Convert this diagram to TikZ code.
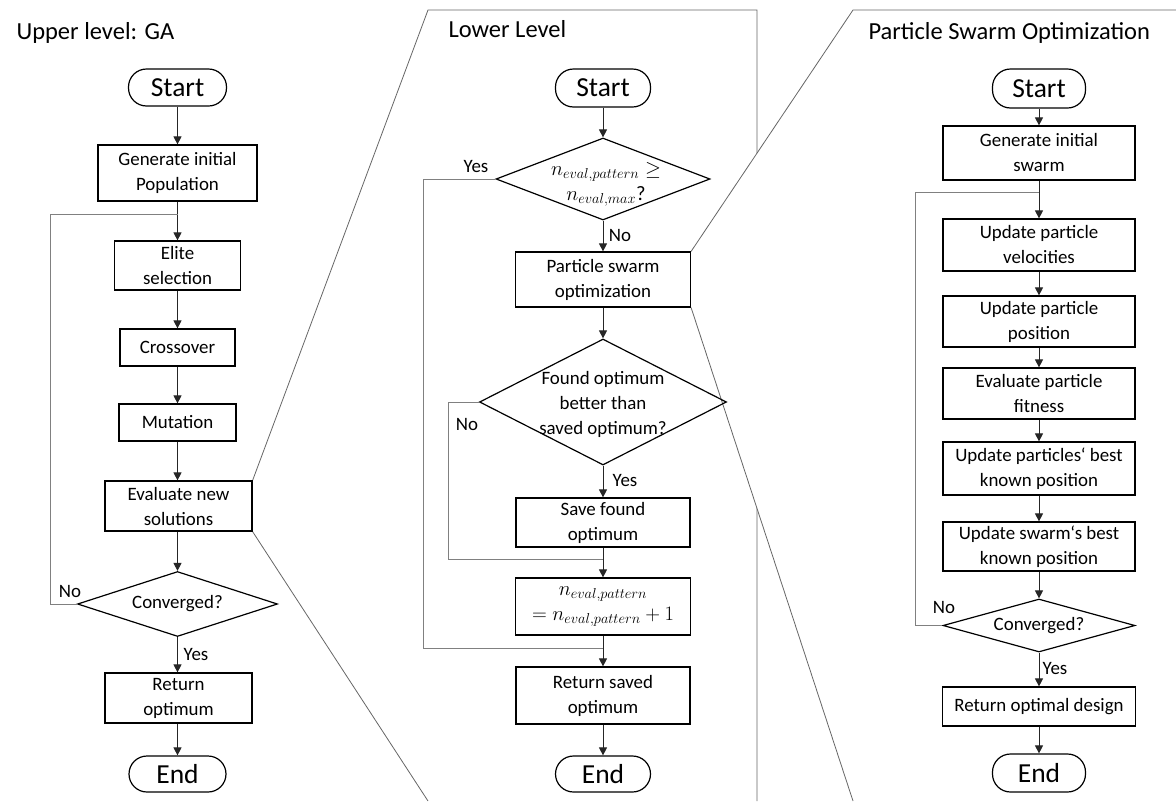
\RequirePackage{fix-cm}
\documentclass[tikz,border=0pt]{standalone}
\usepackage{fontspec}
\setmainfont{Carlito}
\usetikzlibrary{shapes.geometric,arrows.meta}
\pgfdeclarelayer{background}
\pgfsetlayers{background,main}
\begin{document}
\begin{tikzpicture}[x=1pt,y=-1pt,
  every node/.style={font=\fontsize{18.9}{25}\selectfont},
  title/.style={anchor=base west,font=\fontsize{24.5}{28}\selectfont},
  box/.style={draw,line width=1.2pt,align=center,inner sep=0pt},
  term/.style={draw,line width=1.2pt,rounded corners=18pt,inner sep=0pt,font=\fontsize{27.5}{30}\selectfont},
  dec/.style={draw,diamond,line width=1.2pt,inner sep=0pt},
  dtext/.style={align=center,inner sep=0pt},
  mathtext/.style={font=\fontsize{20.5}{25}\selectfont},
  lbl/.style={inner sep=0pt},
  arr/.style={-{Triangle[width=8pt,length=8pt]},line width=0.9pt,draw=black!85},
  loopl/.style={line width=0.9pt,draw=black!50},
  lens/.style={line width=0.8pt,draw=black!60}]
\useasboundingbox (0,0) rectangle (1176,801);

% ---------------- Upper level: GA
\node[title] (tGA) at (13,39) {Upper level: GA};
\node[term,minimum width=98pt,minimum height=37pt] (s1) at (177.5,87.5) {Start};
\node[box,minimum width=159pt,minimum height=56pt] (g1) at (177.5,173) {Generate initial\\Population};
\node[box,minimum width=126pt,minimum height=49pt] (e1) at (177.5,265.5) {Elite\\selection};
\node[box,minimum width=115pt,minimum height=37pt] (cr) at (177.5,347.5) {Crossover};
\node[box,minimum width=117pt,minimum height=37pt] (mu) at (177.5,422.5) {Mutation};
\node[box,minimum width=147pt,minimum height=50pt] (ev) at (178.5,506) {Evaluate new\\solutions};
\node[dec,minimum width=200pt,minimum height=65pt] (c1) at (177.5,604) {};
\node[dtext] (c1t) at (c1) {Converged?};
\node[box,minimum width=147pt,minimum height=50pt] (r1) at (178.5,698) {Return\\optimum};
\node[term,minimum width=97pt,minimum height=36pt] (x1) at (177.5,774) {End};
\node[lbl] (noA) at (70,591) {No};
\node[lbl] (yesA) at (196,654) {Yes};

\draw[arr] (s1.south) -- (s1.south |- g1.north);
\draw[arr] (g1.south) -- (g1.south |- e1.north);
\draw[arr] (e1.south) -- (e1.south |- cr.north);
\draw[arr] (cr.south) -- (cr.south |- mu.north);
\draw[arr] (mu.south) -- (mu.south |- ev.north);
\draw[arr] (ev.south -| c1.north) -- (c1.north);
\draw[arr] (c1.south) -- (c1.south |- r1.north);
\draw[arr] (r1.south -| x1.north) -- (x1.north);
\coordinate (lA) at (50,214);
\draw[loopl] (c1.west) -| (lA) -- (lA -| e1.north);

% ---------------- Lower Level
\node[title] (tLL) at (445,37) {Lower Level};
\node[term,minimum width=95pt,minimum height=38pt] (s2) at (603,88) {Start};
\node[dec,minimum width=214pt,minimum height=82pt] (d1) at (603,179) {};
\node[dtext,mathtext] (d1t) at (606,184) {$n_{eval,pattern}\geq$\\$n_{eval,max}$?};
\node[box,minimum width=175pt,minimum height=55pt] (p2) at (603,279.5) {Particle swarm\\optimization};
\node[dec,minimum width=247pt,minimum height=126pt] (d2) at (603,402) {};
\node[dtext] (d2t) at (603,404) {Found optimum\\better than\\saved optimum?};
\node[box,minimum width=174pt,minimum height=49pt] (sv) at (603,522.5) {Save found\\optimum};
\node[box,mathtext,minimum width=175pt,minimum height=57pt] (ne) at (603,606.5) {$n_{eval,pattern}$\\$=n_{eval,pattern}+1$};
\node[box,minimum width=174pt,minimum height=57pt] (r2) at (603,695.5) {Return saved\\optimum};
\node[term,minimum width=95pt,minimum height=36pt] (x2) at (603,774) {End};
\node[lbl] (yesB) at (476,167) {Yes};
\node[lbl] (noB) at (620,235) {No};
\node[lbl] (noC) at (467,424) {No};
\node[lbl] (yesC) at (625,480) {Yes};

\draw[arr] (s2.south) -- (d1.north);
\draw[arr] (d1.south) -- (p2.north);
\draw[arr] (p2.south) -- (d2.north);
\draw[arr] (d2.south) -- (sv.north);
\draw[arr] (sv.south) -- (ne.north);
\draw[arr] (ne.south) -- (r2.north);
\draw[arr] (r2.south) -- (x2.north);
\coordinate (lB) at (423,648);
\draw[loopl] (d1.west) -| (lB) -- (lB -| r2.north);
\coordinate (lC) at (448,559);
\draw[loopl] (d2.west) -| (lC) -- (lC -| ne.north);

% ---------------- Particle Swarm Optimization
\node[title] (tPS) at (865,39) {Particle Swarm Optimization};
\node[term,minimum width=93pt,minimum height=39pt] (s3) at (1039,88.5) {Start};
\node[box,minimum width=192pt,minimum height=54pt] (g3) at (1039,153) {Generate initial\\swarm};
\node[box,minimum width=192pt,minimum height=52pt] (u1) at (1039,245) {Update particle\\velocities};
\node[box,minimum width=192pt,minimum height=51pt] (u2) at (1039,321.5) {Update particle\\position};
\node[box,minimum width=192pt,minimum height=51pt] (u3) at (1039,393.5) {Evaluate particle\\fitness};
\node[box,minimum width=192pt,minimum height=53pt] (u4) at (1039,468.5) {Update particles‘ best\\known position};
\node[box,minimum width=192pt,minimum height=49pt] (u5) at (1039,546.5) {Update swarm‘s best\\known position};
\node[dec,minimum width=192pt,minimum height=53pt] (c3) at (1039,625.5) {};
\node[dtext] (c3t) at (c3) {Converged?};
\node[box,minimum width=193pt,minimum height=39pt] (r3) at (1039,706.5) {Return optimal design};
\node[term,minimum width=93pt,minimum height=38pt] (x3) at (1039,773) {End};
\node[lbl] (noD) at (944,607) {No};
\node[lbl] (yesD) at (1055,668) {Yes};

\draw[arr] (s3.south) -- (g3.north);
\draw[arr] (g3.south) -- (u1.north);
\draw[arr] (u1.south) -- (u2.north);
\draw[arr] (u2.south) -- (u3.north);
\draw[arr] (u3.south) -- (u4.north);
\draw[arr] (u4.south) -- (u5.north);
\draw[arr] (u5.south) -- (c3.north);
\draw[arr] (c3.south) -- (r3.north);
\draw[arr] (r3.south) -- (x3.north);
\coordinate (lD) at (915,192);
\draw[loopl] (c3.west) -| (lD) -- (lD -| u1.north);

% ---------------- zoom outlines
\begin{pgfonlayer}{background}
\coordinate (L1) at (428,10);
\coordinate (L2) at (757,10);
\coordinate (L3) at (757,801);
\coordinate (L4) at (428,801);
\draw[lens] (ev.north east) -- (L1) -- (L2) -- (L3);
\draw[lens] (ev.south east) -- (L4);
\coordinate (P1) at (853,10);
\coordinate (P2) at (1176,10);
\coordinate (P3) at (1176,801);
\coordinate (P4) at (853,801);
\fill[white] (p2.north east) -- (P1) -- (P2) -- (P3) -- (P4) -- (p2.south east) -- cycle;
\draw[lens] (p2.north east) -- (P1) -- (P2);
\draw[lens] (p2.south east) -- (P4);
\end{pgfonlayer}
\end{tikzpicture}
\end{document}
